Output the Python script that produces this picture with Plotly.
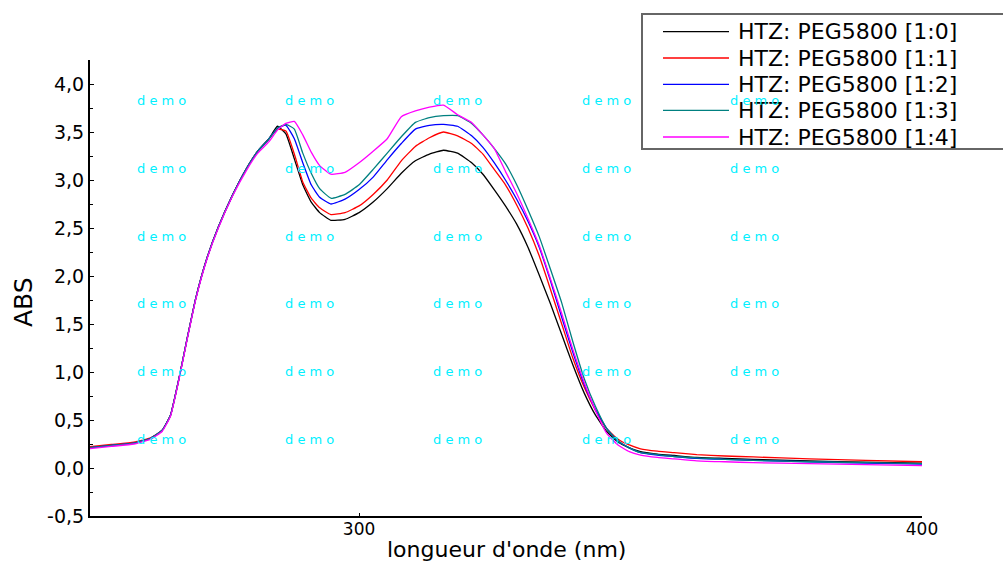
import plotly.graph_objects as go

# Wavelength grid (nm)
wavelength = [252, 256, 260, 263, 265, 266.5, 268, 269.5, 271, 273, 275, 277.5, 280, 282,
              284, 285.5, 287, 288.5, 290, 291.5, 293, 295, 297.5, 300, 302.5, 305, 307.5,
              310, 312.5, 315, 317.5, 320, 322, 324, 326, 328, 330, 332, 334, 336, 338,
              340, 342, 344, 346, 348, 350, 353, 356, 360, 365, 370, 380, 390, 400]

# Absorbance of each HTZ:PEG5800 ratio
abs_1_0 = [0.21, 0.235, 0.26, 0.31, 0.39, 0.55, 0.93, 1.36, 1.77, 2.19, 2.51, 2.84, 3.12, 3.30,
           3.43, 3.56, 3.48, 3.22, 2.95, 2.77, 2.66, 2.58, 2.59, 2.66, 2.77, 2.91, 3.07,
           3.20, 3.27, 3.31, 3.28, 3.18, 3.06, 2.90, 2.73, 2.54, 2.30, 2.01, 1.71, 1.39, 1.07,
           0.78, 0.55, 0.38, 0.27, 0.21, 0.17, 0.145, 0.13, 0.11, 0.10, 0.09, 0.075, 0.06, 0.05]
abs_1_1 = [0.22, 0.245, 0.27, 0.315, 0.39, 0.55, 0.93, 1.36, 1.77, 2.19, 2.51, 2.84, 3.12, 3.30,
           3.43, 3.53, 3.51, 3.27, 2.98, 2.81, 2.71, 2.64, 2.66, 2.73, 2.85, 3.00, 3.20,
           3.35, 3.44, 3.50, 3.46, 3.38, 3.27, 3.11, 2.95, 2.74, 2.50, 2.21, 1.86, 1.50, 1.14,
           0.84, 0.60, 0.41, 0.30, 0.24, 0.20, 0.175, 0.16, 0.14, 0.125, 0.115, 0.095, 0.08, 0.065]
abs_1_2 = [0.21, 0.235, 0.26, 0.31, 0.39, 0.55, 0.93, 1.36, 1.77, 2.19, 2.51, 2.84, 3.12, 3.30,
           3.43, 3.54, 3.57, 3.43, 3.18, 2.95, 2.82, 2.75, 2.80, 2.90, 3.03, 3.21, 3.38,
           3.53, 3.57, 3.58, 3.56, 3.46, 3.34, 3.18, 3.00, 2.80, 2.57, 2.30, 1.95, 1.57, 1.20,
           0.87, 0.61, 0.41, 0.28, 0.21, 0.16, 0.135, 0.12, 0.10, 0.09, 0.08, 0.065, 0.05, 0.04]
abs_1_3 = [0.21, 0.235, 0.26, 0.31, 0.39, 0.55, 0.93, 1.36, 1.77, 2.19, 2.51, 2.84, 3.12, 3.30,
           3.43, 3.54, 3.58, 3.53, 3.28, 3.07, 2.91, 2.81, 2.85, 2.95, 3.11, 3.28, 3.45,
           3.60, 3.65, 3.67, 3.67, 3.59, 3.47, 3.33, 3.17, 2.95, 2.69, 2.41, 2.07, 1.72, 1.31,
           0.93, 0.64, 0.41, 0.28, 0.21, 0.16, 0.14, 0.12, 0.105, 0.09, 0.08, 0.065, 0.055, 0.045]
abs_1_4 = [0.20, 0.225, 0.25, 0.30, 0.38, 0.54, 0.92, 1.35, 1.76, 2.18, 2.50, 2.83, 3.10, 3.28,
           3.40, 3.52, 3.59, 3.61, 3.47, 3.29, 3.15, 3.06, 3.08, 3.18, 3.30, 3.43, 3.66,
           3.72, 3.76, 3.78, 3.68, 3.60, 3.47, 3.33, 3.09, 2.86, 2.60, 2.32, 1.97, 1.61, 1.23,
           0.89, 0.60, 0.36, 0.24, 0.17, 0.135, 0.11, 0.095, 0.075, 0.065, 0.055, 0.045, 0.035, 0.025]

series_names = ["HTZ: PEG5800 [1:0]", "HTZ: PEG5800 [1:1]", "HTZ: PEG5800 [1:2]",
                "HTZ: PEG5800 [1:3]", "HTZ: PEG5800 [1:4]"]
series_values = [abs_1_0, abs_1_1, abs_1_2, abs_1_3, abs_1_4]
series_colors = ["#000000", "#ff0000", "#0000ff", "#008080", "#ff00ff"]

y_tick_vals = [-0.5, 0, 0.5, 1, 1.5, 2, 2.5, 3, 3.5, 4]
y_tick_text = ["-0,5", "0,0", "0,5", "1,0", "1,5", "2,0", "2,5", "3,0", "3,5", "4,0"]
x_tick_vals = [300, 400]
x_tick_text = ["300", "400"]

FONT = "DejaVu Sans, Liberation Sans, Arial, sans-serif"

# plot-area box in pixels, used to place legend and labels in paper coordinates
W, H = 1003, 564
PL, PR, PT, PB = 90, 922, 60, 516


def xp(px):
    return (px - PL) / (PR - PL)


def yp(py):
    return (PB - py) / (PB - PT)


fig = go.Figure()
for name, vals, col in zip(series_names, series_values, series_colors):
    fig.add_trace(go.Scatter(x=wavelength, y=vals, mode="lines", name=name,
                             line=dict(color=col, width=1.3, shape="spline", smoothing=0.4),
                             showlegend=False))

shapes = []
annotations = []

# boxed legend in the upper right corner
shapes.append(dict(type="rect", xref="paper", yref="paper",
                   x0=xp(642), x1=xp(1010), y0=yp(149), y1=yp(14),
                   line=dict(color="#666666", width=2), fillcolor="white", layer="above"))
row_y = [31.7, 58, 84.3, 110.3, 137]
for name, col, ry in zip(series_names, series_colors, row_y):
    shapes.append(dict(type="line", xref="paper", yref="paper",
                       x0=xp(663), x1=xp(729), y0=yp(ry), y1=yp(ry),
                       line=dict(color=col, width=1.3), layer="above"))
    annotations.append(dict(xref="paper", yref="paper", x=xp(736), y=yp(ry),
                            xanchor="left", yanchor="middle", showarrow=False,
                            text=name, font=dict(family=FONT, size=22, color="black")))

# axis titles
annotations.append(dict(xref="paper", yref="paper", x=xp(506), y=yp(549),
                        xanchor="center", yanchor="middle", showarrow=False,
                        text="longueur d'onde (nm)",
                        font=dict(family=FONT, size=22, color="black")))
annotations.append(dict(xref="paper", yref="paper", x=xp(23), y=yp(302),
                        xanchor="center", yanchor="middle", showarrow=False, textangle=-90,
                        text="ABS", font=dict(family=FONT, size=25, color="black")))

# repeated watermark grid
mark_x = [161, 309.3, 457.7, 606, 754.3]
mark_y = [100, 168, 236, 303, 371, 439]
for my in mark_y:
    for mx in mark_x:
        annotations.append(dict(xref="paper", yref="paper", x=xp(mx), y=yp(my),
                                xanchor="center", yanchor="middle", showarrow=False,
                                text="d e m o",
                                font=dict(family=FONT, size=13, color="#00f0ff")))

fig.update_layout(
    width=W, height=H, autosize=False,
    margin=dict(l=PL, r=W - PR, t=PT, b=H - PB, pad=0),
    paper_bgcolor="white", plot_bgcolor="white",
    showlegend=False,
    shapes=shapes, annotations=annotations,
    xaxis=dict(range=[252.2, 400], showgrid=False, zeroline=False,
               showline=True, linecolor="black", linewidth=2,
               tickvals=x_tick_vals, ticktext=x_tick_text,
               ticks="inside", ticklen=3, tickcolor="black",
               ticklabelstandoff=-3,
               tickfont=dict(family=FONT, size=17, color="black")),
    yaxis=dict(range=[-0.5, 4.25], showgrid=False, zeroline=False,
               showline=True, linecolor="black", linewidth=2,
               tickvals=y_tick_vals, ticktext=y_tick_text,
               ticks="inside", ticklen=4, tickcolor="black",
               minor=dict(dtick=0.25, tick0=0, ticks="inside", ticklen=3, tickcolor="black"),
               tickfont=dict(family=FONT, size=19, color="black")),
)

fig.write_html("out.html")
